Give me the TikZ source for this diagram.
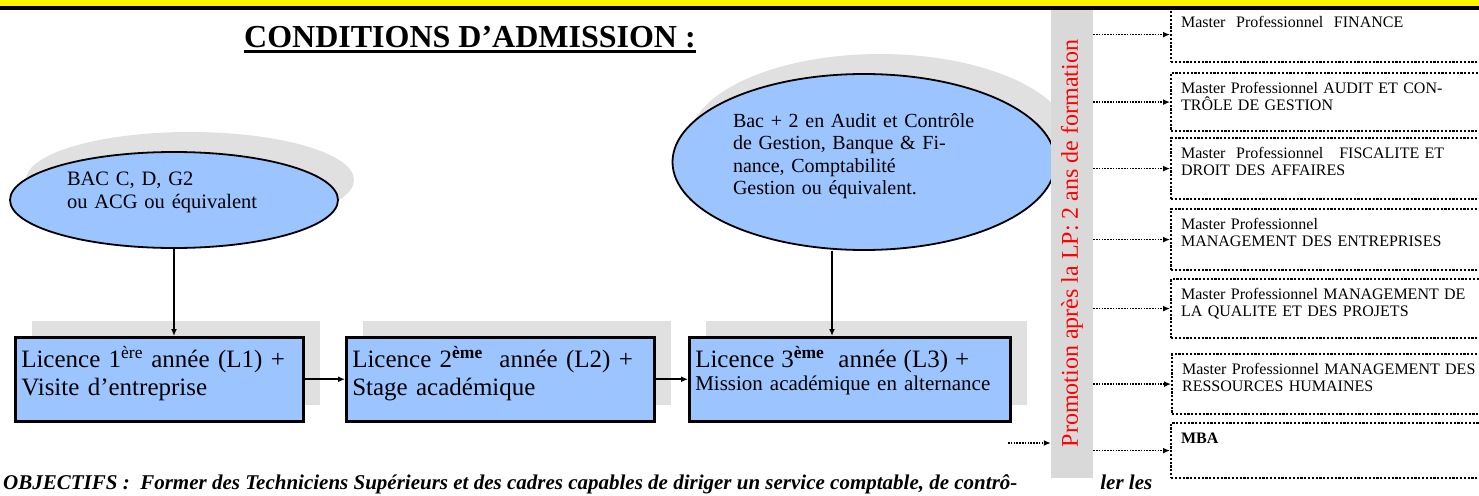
\documentclass[tikz,border=0pt]{standalone}
\usepackage{fontspec}
\setmainfont{Liberation Serif}
\usetikzlibrary{shapes.geometric,shadows,arrows.meta}
\definecolor{bandyellow}{RGB}{255,242,0}
\definecolor{boxblue}{RGB}{156,196,255}
\definecolor{shadowgray}{RGB}{224,224,224}
\definecolor{bargray}{RGB}{217,217,217}
\definecolor{promored}{RGB}{255,0,0}

\begin{document}
\begin{tikzpicture}[x=1pt,y=-1pt,
  lbox/.style={draw, line width=2.5pt, fill=boxblue, anchor=north west, align=left, inner xsep=6pt, inner ysep=10pt, text height=20pt, text depth=44pt, drop shadow={shadow xshift=17pt, shadow yshift=16pt, fill=shadowgray, opacity=1}, font=\fontsize{25}{28}\selectfont},
  oval/.style={draw, ellipse, line width=1.8pt, fill=boxblue, align=left, inner sep=2pt, text height=14pt, drop shadow={shadow xshift=16pt, shadow yshift=20pt, fill=shadowgray, opacity=1}, font=\fontsize{20.5}{23}\selectfont},
  mbox/.style={draw, line width=2.2pt, dash pattern=on 2.2pt off 1.6pt, anchor=north west, text width=300pt, align=left, inner xsep=10pt, inner ysep=8pt, text height=12pt, font=\fontsize{16}{17}\selectfont},
  arr/.style={line width=1.6pt, -{Latex[length=7pt,width=6pt]}},
  dotarr/.style={line width=1.5pt, dash pattern=on 1.5pt off 1.3pt, -{Latex[length=7pt,width=6pt]}}]
\useasboundingbox (0,0) rectangle (1479,495);

\node[inner sep=0pt, anchor=base, font=\fontsize{32}{36}\selectfont\bfseries] (title) at (470,48) {CONDITIONS D’ADMISSION :};
\draw[line width=2.5pt] ([yshift=-3.5pt]title.base west) -- ([yshift=-3.5pt]title.base east);

\node[oval, minimum width=328pt, minimum height=96pt, text width=214pt, text depth=44pt] (bac) at (174,200) {BAC C, D, G2\\ou ACG ou équivalent};
\node[oval, minimum width=383pt, minimum height=176pt, text width=262pt, text depth=84pt, font=\fontsize{20}{22.5}\selectfont] (bactwo) at (864,162) {Bac + 2 en Audit et Contrôle\\de Gestion, Banque \& Fi-\\nance, Comptabilité\\Gestion ou équivalent.};

\node[lbox, text width=276pt] (lone) at (14,336) {Licence 1\textsuperscript{ère} année (L1) +\\Visite d’entreprise};
\node[lbox, text width=296pt] (ltwo) at (345,336) {Licence 2\textsuperscript{\textbf{ème}}\ \ année (L2) +\\Stage académique};
\node[lbox, text width=309pt, font=\fontsize{21}{23}\selectfont] (lthree) at (688,336) {{\fontsize{25}{28}\selectfont Licence 3\textsuperscript{\textbf{ème}}\ \ année (L3) +}\\Mission académique en alternance};

\draw[arr] (bac.south) -- (bac.south |- lone.north);
\draw[arr] ([xshift=-32pt]bactwo.south) -- ([xshift=-32pt]bactwo.south |- lthree.north);
\draw[arr] (lone.east) -- (ltwo.west);
\draw[arr] (ltwo.east) -- (lthree.west);

\node[fill=bargray, rotate=90, minimum width=469pt, minimum height=42pt, inner sep=0pt, text=promored, font=\fontsize{24}{26}\selectfont] (promo) at (1072,243.5) {Promotion après la LP: 2 ans de formation};

\node[mbox, text depth=27pt] (mfin) at (1170,6) {Master\ \ Professionnel\ \ FINANCE};
\node[mbox, text depth=30pt] (maudit) at (1170,72) {Master Professionnel AUDIT ET CON-\\TRÔLE DE GESTION};
\node[mbox, text depth=33pt] (mfisc) at (1170,137) {Master\ \ Professionnel\ \ \ FISCALITE ET\\DROIT DES AFFAIRES};
\node[mbox, text depth=33pt] (mmgt) at (1170,208) {Master Professionnel\\MANAGEMENT DES ENTREPRISES};
\node[mbox, text depth=31pt] (mqual) at (1170,278) {Master Professionnel MANAGEMENT DE\\LA QUALITE ET DES PROJETS};
\node[mbox, text depth=32pt] (mrh) at (1171,353) {Master Professionnel MANAGEMENT DES\\RESSOURCES HUMAINES};
\node[mbox, text depth=27pt] (mba) at (1170,422) {\textbf{MBA}};

\coordinate (lpin) at (1008,443);
\draw[dotarr] (lpin) -- (lpin -| promo.north);
\draw[dotarr] (promo.south |- mfin.west) -- (mfin.west);
\draw[dotarr] (promo.south |- maudit.west) -- (maudit.west);
\draw[dotarr] (promo.south |- mfisc.west) -- (mfisc.west);
\draw[dotarr] (promo.south |- mmgt.west) -- (mmgt.west);
\draw[dotarr] (promo.south |- mqual.west) -- (mqual.west);
\draw[dotarr] (promo.south |- mrh.west) -- (mrh.west);
\draw[dotarr] (promo.south |- mba.west) -- (mba.west);

\node[anchor=base west, inner sep=0pt, font=\fontsize{21}{24}\selectfont\bfseries\itshape] (obj) at (3,489) {OBJECTIFS :\ \ Former des Techniciens Supérieurs et des cadres capables de diriger un service comptable, de contrô-\hspace{83pt}ler les};

\fill[bandyellow] (0,0) rectangle (1479,6);
\fill[black] (0,6) rectangle (1479,10);
\end{tikzpicture}
\end{document}
